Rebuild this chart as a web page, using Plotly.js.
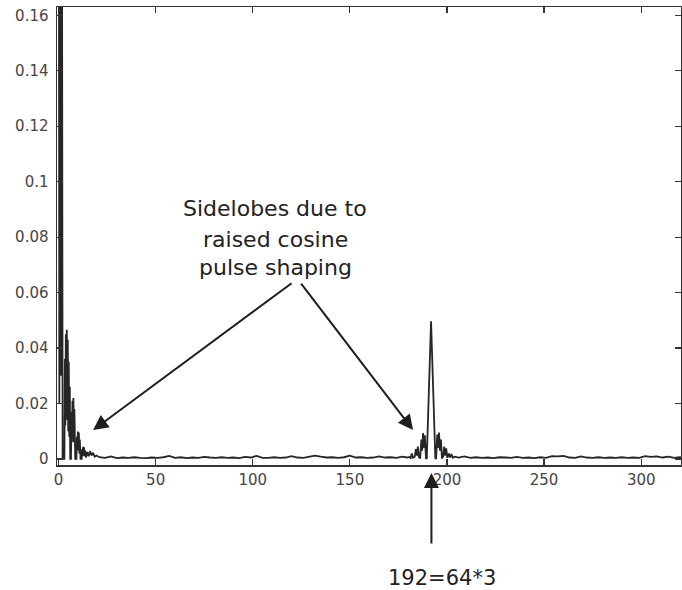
<!DOCTYPE html>
<html>
<head>
<meta charset="utf-8">
<script src="https://cdn.plot.ly/plotly-3.0.1.min.js"></script>
<style>
  html, body { margin: 0; padding: 0; background: #fff; }
  #chart { width: 682px; height: 590px; }
</style>
</head>
<body>
<div id="chart"></div>
<script>
// ---- Data ----
// Low-frequency lobes near 0
const lobeX = [0, 0.4, 0.8, 1.2, 1.6, 2.1,
               3.0, 3.25, 3.5, 3.75, 4.0, 4.25, 4.5, 4.75, 5.0, 5.25, 5.5, 5.8, 6.0,
               6.4, 6.65, 6.9, 7.15, 7.4, 7.65, 7.9, 8.15, 8.6,
               9.2, 9.45, 9.7, 9.95, 10.2, 10.45, 10.7, 10.95, 11.3,
               11.9, 12.15, 12.4, 12.65, 12.9, 13.15, 13.4, 13.7, 14.1,
               14.8, 15.5, 16.3, 17.0, 17.8, 18.6, 19.5, 20.5];
const lobeY = [0.35, 0.02, 0.33, 0.03, 0.30, 0.0,
               0.0, 0.036, 0.012, 0.045, 0.015, 0.0466, 0.014, 0.043, 0.010, 0.035, 0.008, 0.026, 0.0,
               0.0, 0.017, 0.006, 0.021, 0.007, 0.022, 0.006, 0.018, 0.0,
               0.0, 0.008, 0.003, 0.0099, 0.003, 0.0095, 0.002, 0.007, 0.0,
               0.0, 0.0035, 0.001, 0.0044, 0.0012, 0.0042, 0.001, 0.003, 0.0005,
               0.0025, 0.001, 0.0028, 0.0012, 0.0022, 0.0008, 0.0012, 0.0006];

// Noise floor between the two lobe groups
const noiseAX = [21, 24, 27, 30, 33, 36, 39, 42, 45, 48, 51, 54, 57, 60, 63, 66, 69, 72, 75, 78,
                 81, 84, 87, 90, 93, 96, 99, 102, 105, 108, 111, 114, 117, 120, 123, 126, 129, 132, 135, 138,
                 141, 144, 147, 150, 153, 156, 159, 162, 165, 168, 171, 174, 177, 179.5];
const noiseAY = [0.0006, 0.0004, 0.0009, 0.0003, 0.0005, 0.0004, 0.0006, 0.0004, 0.0003, 0.0005,
                 0.0004, 0.0006, 0.0011, 0.0004, 0.0006, 0.0003, 0.0005, 0.0004, 0.0007, 0.0005,
                 0.0004, 0.0006, 0.0004, 0.0005, 0.0003, 0.0007, 0.0005, 0.0011, 0.0004, 0.0004,
                 0.0006, 0.0004, 0.0005, 0.0010, 0.0005, 0.0004, 0.0007, 0.0012, 0.0008, 0.0005,
                 0.0006, 0.0004, 0.0006, 0.0012, 0.0005, 0.0006, 0.0004, 0.0005, 0.0009, 0.0005,
                 0.0006, 0.0004, 0.0008, 0.0005];

// Peak at 192 = 64*3 with its sidelobes
const peakX = [180.5, 181.3, 181.9, 182.5, 183.4, 184.0, 184.5, 185.0, 185.6, 186.2, 186.8, 187.2, 187.7,
               188.1, 188.6, 189.2, 189.6, 191.8, 194.0, 194.4, 195.0, 195.5, 195.9, 196.4, 196.9, 197.4,
               198.0, 198.6, 199.1, 199.6, 200.2, 201.0, 201.6, 202.3, 203.0, 204.0];
const peakY = [0.0007, 0.0003, 0.0020, 0.0004, 0.0008, 0.0035, 0.0012, 0.0044, 0.0006, 0.0002, 0.0070, 0.0030, 0.0093,
               0.0040, 0.0085, 0.0, 0.0003, 0.0496, 0.0003, 0.0, 0.0088, 0.0040, 0.0095, 0.0030, 0.0070, 0.0002,
               0.0008, 0.0044, 0.0012, 0.0038, 0.0004, 0.0019, 0.0005, 0.0017, 0.0004, 0.0008];

// Noise floor to the right
const noiseBX = [206, 209, 212, 215, 218, 221, 224, 227, 230, 233, 236, 239, 242, 245, 248, 251, 254, 257, 260, 263,
                 266, 269, 272, 275, 278, 281, 284, 287, 290, 293, 296, 299, 302, 305, 308, 311, 314, 317, 320, 322];
const noiseBY = [0.0005, 0.0009, 0.0004, 0.0006, 0.0004, 0.0005, 0.0003, 0.0006, 0.0005, 0.0004,
                 0.0007, 0.0004, 0.0005, 0.0003, 0.0006, 0.0004, 0.0010, 0.0009, 0.0011, 0.0005,
                 0.0004, 0.0009, 0.0005, 0.0004, 0.0006, 0.0004, 0.0005, 0.0004, 0.0006, 0.0004,
                 0.0005, 0.0004, 0.0010, 0.0007, 0.0009, 0.0005, 0.0008, 0.0004, 0.0006, 0.0005];

// Ticks
const xTickVals = [0, 50, 100, 150, 200, 250, 300];
const xTickText = ["0", "50", "100", "150", "200", "250", "300"];
const yTickVals = [0, 0.02, 0.04, 0.06, 0.08, 0.1, 0.12, 0.14, 0.16];
const yTickText = ["0", "0.02", "0.04", "0.06", "0.08", "0.1", "0.12", "0.14", "0.16"];

// Annotation texts
const noteLines = ["Sidelobes due to", "raised cosine", "pulse shaping"];
const peakLabel = "192=64*3";
const peakIndex = 192;

// ---- Build ----
const xs = lobeX.concat(noiseAX, peakX, noiseBX);
const ys = lobeY.concat(noiseAY, peakY, noiseBY);

const trace = {
  x: xs, y: ys, type: 'scatter', mode: 'lines',
  line: { color: '#262626', width: 1.8 },
  hoverinfo: 'skip'
};

const fontFam = '"DejaVu Sans", Arial, sans-serif';
const arrowCol = '#1e1e1e';

const annotations = [
  { x: 111.5, y: 0.0905, xref: 'x', yref: 'y', text: noteLines[0], showarrow: false,
    xanchor: 'center', yanchor: 'middle', font: { family: fontFam, size: 22, color: '#222' } },
  { x: 111.5, y: 0.0790, xref: 'x', yref: 'y', text: noteLines[1], showarrow: false,
    xanchor: 'center', yanchor: 'middle', font: { family: fontFam, size: 22, color: '#222' } },
  { x: 111.5, y: 0.0689, xref: 'x', yref: 'y', text: noteLines[2], showarrow: false,
    xanchor: 'center', yanchor: 'middle', font: { family: fontFam, size: 22, color: '#222' } },
  { x: 17.8, y: 0.0104, xref: 'x', yref: 'y', text: '', showarrow: true,
    ax: 200, ay: -148, arrowhead: 2, arrowsize: 1.5, arrowwidth: 2, arrowcolor: arrowCol, standoff: 0 },
  { x: 182.5, y: 0.0104, xref: 'x', yref: 'y', text: '', showarrow: true,
    ax: -113, ay: -148, arrowhead: 2, arrowsize: 1.5, arrowwidth: 2, arrowcolor: arrowCol, standoff: 0 },
  { x: peakIndex, y: -0.0175, xref: 'x', yref: 'paper', text: '', showarrow: true,
    ax: 0, ay: 72, arrowhead: 2, arrowsize: 1.5, arrowwidth: 2, arrowcolor: arrowCol, standoff: 0 },
  { x: 197.2, y: -0.2467, xref: 'x', yref: 'paper', text: peakLabel, showarrow: false,
    xanchor: 'center', yanchor: 'middle', font: { family: fontFam, size: 21, color: '#222' } }
];

const layout = {
  width: 682, height: 590,
  margin: { l: 57, r: 1, t: 7, b: 125, pad: 0 },
  paper_bgcolor: '#ffffff', plot_bgcolor: '#ffffff',
  showlegend: false,
  font: { family: fontFam, size: 15, color: '#444' },
  xaxis: {
    range: [-0.8, 320.5], showgrid: false, zeroline: false,
    showline: true, linecolor: '#333', linewidth: 1.5, mirror: 'ticks',
    ticks: 'inside', ticklen: 6, tickwidth: 1.2, tickcolor: '#333',
    tickmode: 'array', tickvals: xTickVals, ticktext: xTickText,
    tickfont: { family: fontFam, size: 15, color: '#444' }
  },
  yaxis: {
    range: [-0.0022, 0.163], showgrid: false, zeroline: false,
    showline: true, linecolor: '#333', linewidth: 1.5, mirror: 'ticks',
    ticks: 'inside', ticklen: 6, tickwidth: 1.2, tickcolor: '#333',
    tickmode: 'array', tickvals: yTickVals, ticktext: yTickText,
    tickfont: { family: fontFam, size: 15, color: '#444' },
    ticklabelstandoff: 4
  },
  annotations: annotations
};

Plotly.newPlot('chart', [trace], layout, { displayModeBar: false, staticPlot: true });
</script>
</body>
</html>
